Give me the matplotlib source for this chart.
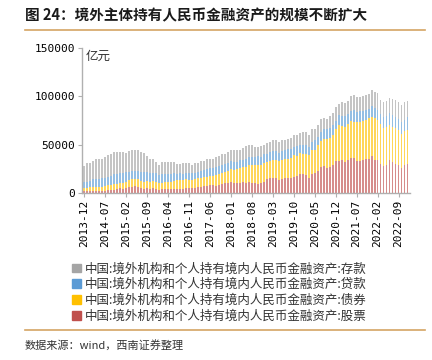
import matplotlib
matplotlib.use('Agg')
import matplotlib.pyplot as plt
from matplotlib.patches import Patch
from matplotlib.lines import Line2D
import numpy as np

plt.rcParams['font.family'] = ['Noto Sans CJK SC', 'DejaVu Sans']

# monthly data, 2013-12 .. 2022-12, unit: 亿元
months = ['2013-12'] + ['%d-%02d' % (y, m) for y in range(2014, 2023) for m in range(1, 13)]

stocks = [2500,
          2100, 2100, 2100, 2100, 2100, 2100, 2400, 3100, 3100, 3100, 3800, 4800,
          3800, 4800, 5800, 6500, 7200, 6500, 4800, 3800, 4800, 3800, 4800, 3800,
          3100, 3800, 4100, 4100, 4100, 4100, 4400, 4400, 4400, 5500, 5500, 4800,
          5500, 5800, 6500, 7200, 7200, 8200, 8200, 7600, 8200, 9200, 9900, 10600,
          11600, 10600, 10600, 10600, 11600, 10600, 11600, 10600, 9900, 9200, 10600, 11600,
          14000, 15000, 15000, 15000, 13300, 14000, 15000, 15000, 15700, 16800, 18000, 19500,
          19100, 18500, 15700, 19100, 20200, 22600, 27000, 28000, 26000, 27000, 28700, 32800,
          33500, 33900, 32100, 33900, 36600, 36600, 33200, 32800, 33900, 34900, 34900, 38000,
          34500, 33900, 30400, 27700, 28700, 33900, 32100, 30400, 28700, 25300, 28700, 30400]

bonds = [3000,
         3400, 3800, 4400, 4400, 4400, 4400, 4800, 5100, 5100, 6200, 5500, 5800,
         6800, 6800, 7500, 7500, 7200, 7500, 7900, 7900, 7900, 7900, 7500, 7200,
         6800, 6800, 6800, 7500, 7500, 8200, 8900, 8900, 8900, 8600, 7900, 8600,
         8600, 9200, 8600, 8900, 9600, 9200, 9400, 10500, 11200, 11600, 12000, 12000,
         12700, 13000, 13700, 14700, 15400, 16400, 17800, 18800, 18800, 19500, 18800, 19500,
         18100, 18100, 19500, 19500, 19500, 19800, 19800, 20500, 20500, 22200, 20200, 21900,
         21500, 22200, 23300, 25000, 24600, 26700, 26300, 28000, 30100, 29800, 30800, 33500,
         36300, 35200, 35900, 37600, 37300, 36600, 40000, 40400, 41000, 40700, 42800, 41000,
         42800, 41700, 40400, 39300, 39300, 36600, 35900, 36600, 35900, 35200, 35200, 34900]

loans = [5800,
         6200, 6500, 7500, 7900, 7900, 8600, 8600, 8600, 9200, 10300, 10300, 9600,
         9600, 9600, 8600, 8600, 8200, 8600, 9200, 9600, 9200, 9200, 8600, 9200,
         8600, 8600, 8600, 7900, 7900, 7900, 6800, 7500, 6800, 6800, 6800, 6800,
         6200, 6800, 7500, 7500, 7500, 7900, 8000, 8600, 8600, 7900, 7900, 7900,
         8900, 8600, 7900, 8600, 7500, 8600, 7900, 7900, 8600, 9200, 7900, 8900,
         8600, 9200, 8600, 8900, 8600, 9200, 9200, 9600, 9600, 8600, 10300, 8600,
         9200, 8600, 8600, 8600, 9600, 8600, 9600, 10300, 10300, 10300, 10900, 8600,
         10300, 10900, 12000, 10300, 10600, 12700, 10300, 12000, 10300, 10300, 9200, 11300,
         10600, 10300, 10900, 12000, 12000, 12000, 12700, 12000, 12000, 12700, 11600, 13000]

deposits = [16400,
            18800, 18800, 18800, 20200, 21200, 19800, 21500, 22200, 23300, 22900, 22900, 22200,
            22200, 20200, 21500, 21500, 21500, 21500, 20500, 19500, 16100, 13700, 14700, 12000,
            10900, 12300, 12300, 12300, 12300, 11600, 10300, 9600, 10900, 9600, 10300, 9200,
            10300, 9200, 10300, 9200, 10300, 10300, 10000, 10300, 10300, 12000, 10900, 12000,
            10900, 12000, 12000, 10300, 12300, 12700, 12000, 12000, 10300, 9600, 10900, 9200,
            10900, 10300, 11300, 11300, 11300, 11300, 10300, 10900, 10900, 12000, 11600, 12300,
            13000, 13700, 12700, 13000, 12000, 12700, 13700, 10900, 10300, 12300, 12300, 13700,
            12000, 13700, 12700, 13000, 15400, 15400, 15400, 13700, 15400, 15700, 15400, 16100,
            16100, 17400, 14700, 14700, 15400, 15700, 16400, 17100, 17100, 18100, 18100, 17100]

prefix = '中国:境外机构和个人持有境内人民币金融资产:'
names = ['股票', '债券', '贷款', '存款']
colors = ['#c0504d', '#ffc000', '#5b9bd5', '#a5a5a5']

fig = plt.figure(figsize=(4.32, 3.6), dpi=100)
ax = fig.add_axes([0.19, 0.464, 0.759, 0.403])

x = np.arange(len(months))
bottom = np.zeros(len(months))
for vals, c in zip([stocks, bonds, loans, deposits], colors):
    ax.bar(x, vals, 0.6, bottom=bottom, color=c, alpha=0.65, linewidth=0)
    bottom += np.array(vals)

ax.set_xlim(-0.6, len(months) - 0.2)
ax.set_ylim(0, 150000)
ax.set_yticks([0, 50000, 100000, 150000])
ax.set_yticklabels(['0', '50000', '100000', '150000'], family='DejaVu Sans Mono', fontsize=8)
ax.set_xticks(x[::7])
ax.set_xticklabels(months[::7], rotation=90, family='DejaVu Sans Mono', fontsize=8)
for s in ['top', 'right']:
    ax.spines[s].set_visible(False)
for s in ['left', 'bottom']:
    ax.spines[s].set_color('#b0b0b0')
    ax.spines[s].set_linewidth(1)
ax.tick_params(axis='both', length=3, color='#b0b0b0', pad=2)
ax.text(0.012, 0.985, '亿元', transform=ax.transAxes, fontsize=9, va='top', ha='left', color='#333333')

handles = [Patch(color=colors[i]) for i in [3, 2, 1, 0]]
labels = [prefix + names[i] for i in [3, 2, 1, 0]]
fig.legend(handles, labels, loc='upper left', bbox_to_anchor=(0.155, 0.285), frameon=False,
           fontsize=9, handlelength=0.7, handleheight=0.7, handletextpad=0.3, labelspacing=0.22,
           borderaxespad=0, labelcolor='#333333')

fig.text(0.058, 0.958, '图 24：境外主体持有人民币金融资产的规模不断扩大', fontsize=10.5,
         weight='bold', va='center', ha='left', color='#1a1a1a')
fig.add_artist(Line2D([0.058, 0.984], [0.916, 0.916], color='#d4a463', linewidth=1.2))
fig.add_artist(Line2D([0.058, 0.984], [0.083, 0.083], color='#d4a463', linewidth=1.2))
fig.text(0.058, 0.042, '数据来源：wind，西南证券整理', fontsize=8, style='italic',
         va='center', ha='left', color='#333333')

fig.savefig('out.png', dpi=100)
